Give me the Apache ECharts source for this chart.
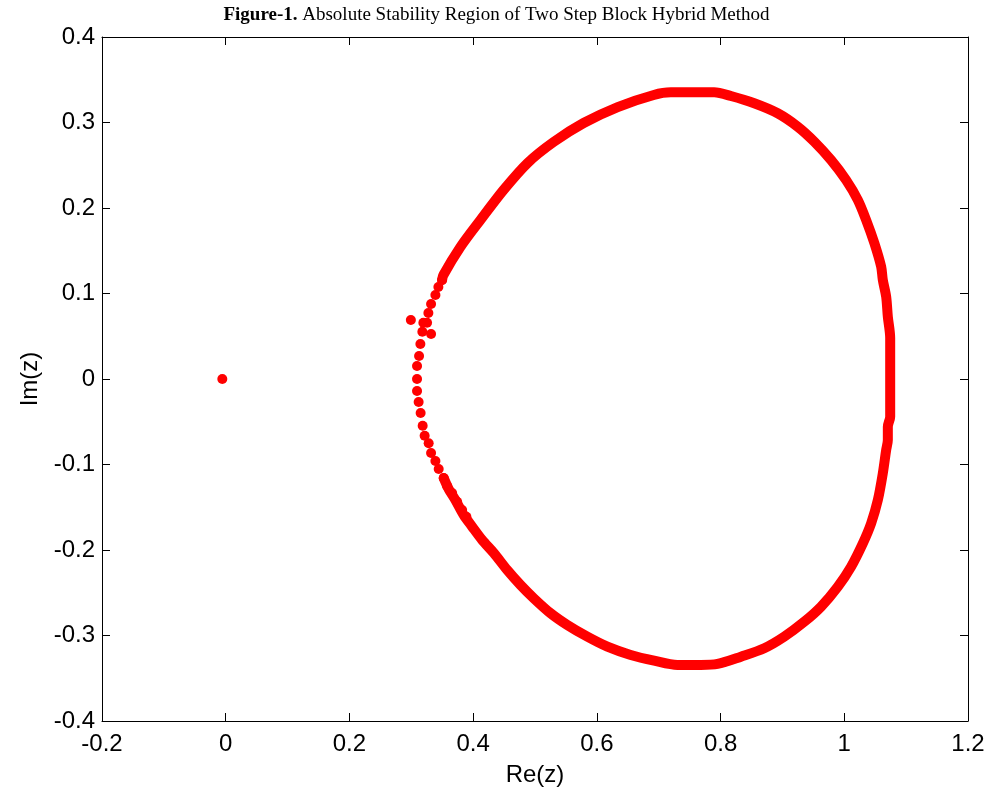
<!DOCTYPE html>
<html>
<head>
<meta charset="utf-8">
<script src="https://cdn.jsdelivr.net/npm/echarts/dist/echarts.min.js"></script>
<style>
html,body{margin:0;padding:0;background:#fff;}
#chart{width:993px;height:796px;}
</style>
</head>
<body>
<div id="chart"></div>
<script>
// Axis ticks
var xTicks = [-0.2, 0, 0.2, 0.4, 0.6, 0.8, 1, 1.2];
var yTicks = [-0.4, -0.3, -0.2, -0.1, 0, 0.1, 0.2, 0.3, 0.4];

// Continuous (densely sampled) part of the boundary locus: [Re(z), Im(z)]
var boundaryDense = [
  [0.3524,-0.1158],[0.3605,-0.1287],[0.3713,-0.1415],[0.3848,-0.1591],[0.3984,-0.1727],
  [0.4146,-0.1883],[0.4334,-0.2035],[0.4551,-0.2234],[0.4766,-0.2409],[0.4981,-0.2565],
  [0.5252,-0.2740],[0.5522,-0.2877],[0.5846,-0.3014],[0.6170,-0.3131],[0.6547,-0.3228],
  [0.6925,-0.3295],[0.7304,-0.3345],[0.7681,-0.3345],[0.7951,-0.3333],[0.8329,-0.3248],
  [0.8706,-0.3150],[0.9030,-0.3014],[0.9354,-0.2839],[0.9624,-0.2663],[0.9895,-0.2429],
  [1.0110,-0.2195],[1.0300,-0.1922],[1.0434,-0.1688],[1.0543,-0.1415],[1.0623,-0.1103],
  [1.0677,-0.0830],[1.0704,-0.0713],[1.0704,-0.0558],[1.0742,-0.0441],[1.0742,0.0000],
  [1.0742,0.0480],[1.0704,0.0729],[1.0677,0.0963],[1.0623,0.1158],[1.0596,0.1313],
  [1.0487,0.1587],[1.0353,0.1860],[1.0219,0.2094],[1.0029,0.2327],[0.9786,0.2561],
  [0.9516,0.2775],[0.9247,0.2951],[0.8923,0.3108],[0.8544,0.3225],[0.8167,0.3310],
  [0.7896,0.3353],[0.7357,0.3353],[0.7195,0.3353],[0.6920,0.3322],[0.6337,0.3181],
  [0.5786,0.2994],[0.5300,0.2772],[0.4879,0.2526],[0.4491,0.2211],[0.4118,0.1860],
  [0.3794,0.1544],[0.3519,0.1216],[0.3498,0.1158]
];

// Sparse (individually visible) points of the locus near the left edge
var boundarySparse = [
  [0.3498,0.1158],[0.3438,0.1076],[0.3390,0.0982],[0.3320,0.0877],[0.3276,0.0772],
  [0.3255,0.0658],[0.3195,0.0658],[0.3179,0.0553],[0.3320,0.0526],[0.3147,0.0409],
  [0.3126,0.0269],[0.3093,0.0152],[0.3093,0.0000],[0.3093,-0.0140],[0.3119,-0.0269],
  [0.3151,-0.0398],[0.3184,-0.0546],[0.3216,-0.0663],[0.3281,-0.0752],[0.3320,-0.0865],
  [0.3390,-0.0959],[0.3443,-0.1053],[0.3524,-0.1158],[0.3579,-0.1251],[0.3660,-0.1333],
  [0.3741,-0.1435],[0.3822,-0.1532],[0.3891,-0.1611]
];

// Isolated points
var isolated = [[0.2993,0.0690],[-0.0055,0.0000]];

var FONT = "'Liberation Sans', Arial, sans-serif";
var SERIF = "'Liberation Serif', 'Times New Roman', serif";
var chart = echarts.init(document.getElementById('chart'), null, {renderer:'canvas'});

function fmt(v){ var r = Math.round(v*10)/10; return String(r); }

function xAx(pos, showLabel){
  return {
    type:'value', position:pos, min:-0.2, max:1.2, interval:0.2,
    axisLine:{show:true, onZero:false, lineStyle:{color:'#000', width:1}},
    axisTick:{show:true, inside:true, length:8, lineStyle:{color:'#000', width:1}},
    axisLabel:{show:showLabel, fontSize:24, color:'#000', margin:11, fontFamily:FONT,
      showMinLabel:true, showMaxLabel:true, formatter:fmt},
    splitLine:{show:false},
    name: showLabel ? 'Re(z)' : '', nameLocation:'middle', nameGap:42,
    nameTextStyle:{fontSize:24, color:'#000', fontFamily:FONT}
  };
}
function yAx(pos, showLabel){
  return {
    type:'value', position:pos, min:-0.4, max:0.4, interval:0.1,
    axisLine:{show:true, onZero:false, lineStyle:{color:'#000', width:1}},
    axisTick:{show:true, inside:true, length:8, lineStyle:{color:'#000', width:1}},
    axisLabel:{show:showLabel, fontSize:24, color:'#000', margin:7, fontFamily:FONT,
      showMinLabel:true, showMaxLabel:true, formatter:fmt},
    splitLine:{show:false},
    name: showLabel ? 'Im(z)' : '', nameLocation:'middle', nameGap:60, nameRotate:90,
    nameTextStyle:{fontSize:24, color:'#000', fontFamily:FONT}
  };
}

chart.setOption({
  animation:false,
  backgroundColor:'#fff',
  title:{
    text:'{b|Figure-1.} Absolute Stability Region of Two Step Block Hybrid Method',
    left:'center', top:1,
    textStyle:{fontFamily:SERIF, fontSize:19, fontWeight:'normal', color:'#000',
      rich:{b:{fontFamily:SERIF, fontSize:19, fontWeight:'bold', color:'#000'}}}
  },
  grid:{left:102, right:25, top:37, bottom:75, containLabel:false},
  xAxis:[xAx('bottom', true), xAx('top', false)],
  yAxis:[yAx('left', true), yAx('right', false)],
  series:[
    {type:'line', xAxisIndex:0, yAxisIndex:0, data:boundaryDense, showSymbol:false, symbol:'none',
      smooth:0.3, lineStyle:{color:'#ff0000', width:10, cap:'round', join:'round'}, silent:true},
    {type:'scatter', xAxisIndex:0, yAxisIndex:0, data:boundarySparse, symbol:'circle', symbolSize:10,
      itemStyle:{color:'#ff0000', opacity:1}, silent:true},
    {type:'scatter', xAxisIndex:0, yAxisIndex:0, data:isolated, symbol:'circle', symbolSize:10,
      itemStyle:{color:'#ff0000', opacity:1}, silent:true}
  ]
});
</script>
</body>
</html>
